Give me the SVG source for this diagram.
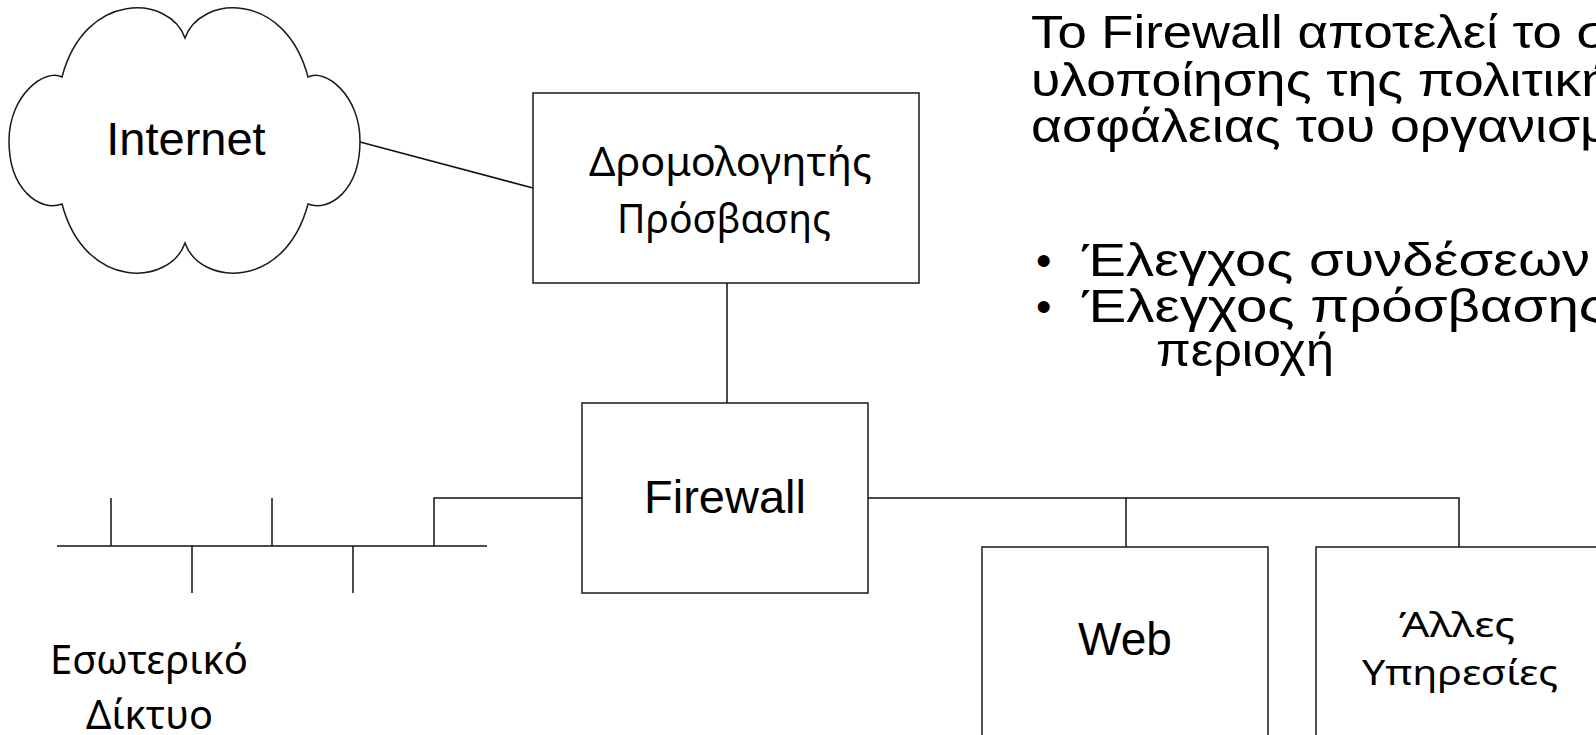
<svg xmlns="http://www.w3.org/2000/svg" width="1596" height="735" viewBox="0 0 1596 735">
<style>
.shape{fill:#fff;stroke:#1a1a1a;stroke-width:1.5}
.wire{fill:none;stroke:#111;stroke-width:1.5}
.arial{font-family:"Liberation Sans",Arial,sans-serif;fill:#000}
.cal{font-family:"Noto Sans","Open Sans",sans-serif;fill:#000}
</style>
<rect width="1596" height="735" fill="#fff"/>
<g id="connectors">
<line class="wire" x1="360" y1="142" x2="533" y2="188"/>
<line class="wire" x1="727" y1="283" x2="727" y2="403"/>
<polyline class="wire" points="582,498 434,498 434,546"/>
<line class="wire" x1="57" y1="546" x2="487" y2="546"/>
<line class="wire" x1="111" y1="498" x2="111" y2="546"/>
<line class="wire" x1="272" y1="498" x2="272" y2="546"/>
<line class="wire" x1="192" y1="546" x2="192" y2="593"/>
<line class="wire" x1="353" y1="546" x2="353" y2="593"/>
<polyline class="wire" points="868,498 1459,498 1459,547"/>
<line class="wire" x1="1126" y1="498" x2="1126" y2="547"/>
</g>
<g id="internet">
<path class="shape" d="M185,38 C200,-5 285,-10 308,77 C325,68 360,95 360,141 C360,190 330,212 308,204 C285,291 200,286 185,243 C170,286 85,291 62,204 C40,212 9,190 9,141 C9,95 45,68 62,77 C85,-10 170,-5 185,38 Z"/>
<text class="arial" x="186" y="155" font-size="47" text-anchor="middle">Internet</text>
</g>
<g id="router">
<rect class="shape" x="533" y="93" width="386" height="190"/>
<text class="cal" x="589" y="176" font-size="40" textLength="283" lengthAdjust="spacingAndGlyphs">Δρομολογητής</text>
<text class="cal" x="617" y="233" font-size="40" textLength="214" lengthAdjust="spacingAndGlyphs">Πρόσβασης</text>
</g>
<g id="firewall">
<rect class="shape" x="582" y="403" width="286" height="190"/>
<text class="arial" x="725" y="513" font-size="47" text-anchor="middle">Firewall</text>
</g>
<g id="internal">
<text class="cal" x="50" y="674" font-size="40" textLength="198" lengthAdjust="spacingAndGlyphs">Εσωτερικό</text>
<text class="cal" x="86" y="729" font-size="40" textLength="127" lengthAdjust="spacingAndGlyphs">Δίκτυο</text>
</g>
<g id="web">
<rect class="shape" x="982" y="547" width="286" height="200"/>
<text class="arial" x="1125" y="655" font-size="46" text-anchor="middle">Web</text>
</g>
<g id="other">
<rect class="shape" x="1316" y="547" width="300" height="200"/>
<text class="cal" x="1399" y="637" font-size="34" textLength="116" lengthAdjust="spacingAndGlyphs">Άλλες</text>
<text class="cal" x="1362" y="685" font-size="34" textLength="196" lengthAdjust="spacingAndGlyphs">Υπηρεσίες</text>
</g>
<g id="description" class="arial" font-size="47">
<text x="1031" y="48" textLength="578" lengthAdjust="spacingAndGlyphs">Το Firewall αποτελεί το σ</text>
<text x="1031" y="96" textLength="580" lengthAdjust="spacingAndGlyphs">υλοποίησης της πολιτική</text>
<text x="1031" y="142" textLength="580" lengthAdjust="spacingAndGlyphs">ασφάλειας του οργανισμ</text>
<text x="1036" y="276" font-size="44">•</text>
<text x="1082" y="276" textLength="508" lengthAdjust="spacingAndGlyphs">Έλεγχος συνδέσεων</text>
<text x="1036" y="322" font-size="44">•</text>
<text x="1082" y="322" textLength="524" lengthAdjust="spacingAndGlyphs">Έλεγχος πρόσβασης</text>
<text x="1156" y="366" textLength="178" lengthAdjust="spacingAndGlyphs">περιοχή</text>
</g>
</svg>
